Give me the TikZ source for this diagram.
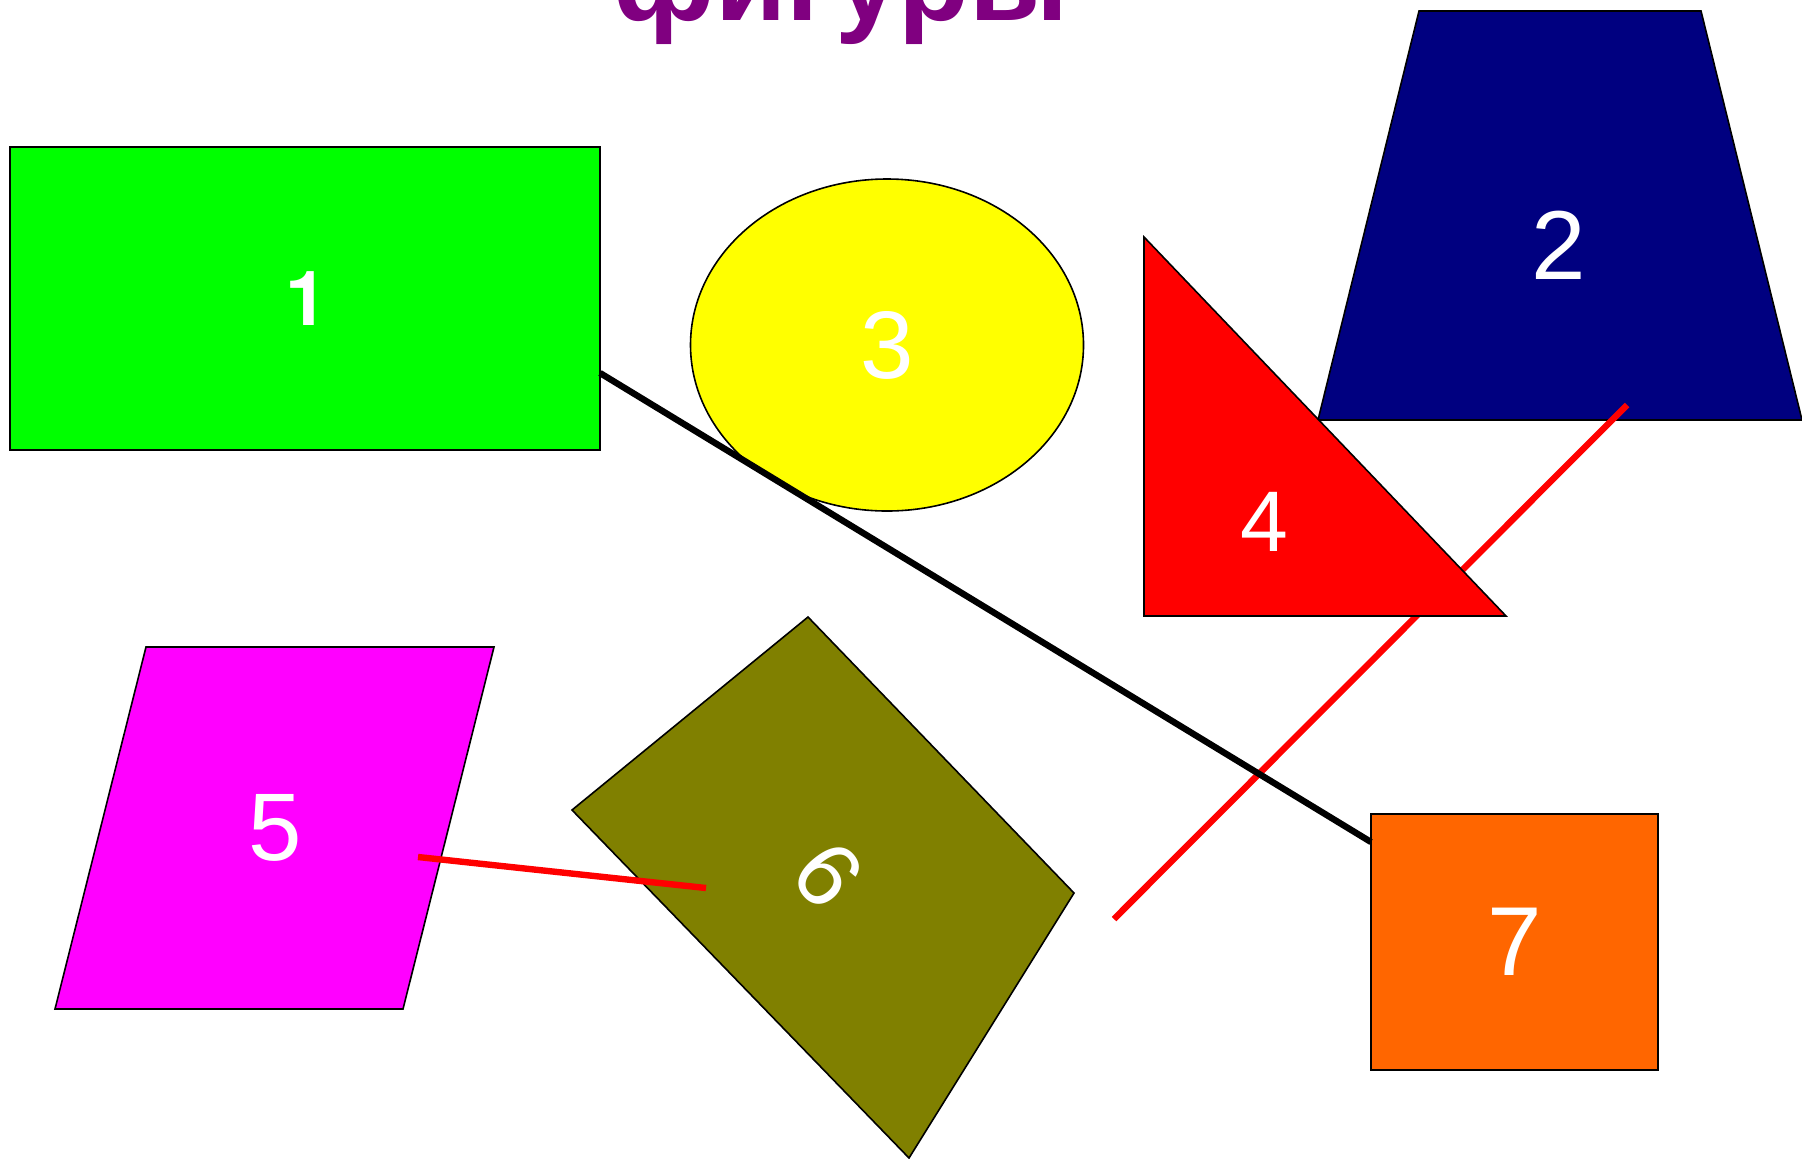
\documentclass[tikz,border=0pt]{standalone}
\usepackage{fontspec}
\setmainfont{Liberation Sans}
\newfontfamily\heros{TeX Gyre Heros}
\definecolor{figgreen}{HTML}{00FF00}
\definecolor{figyellow}{HTML}{FFFF00}
\definecolor{fignavy}{HTML}{000080}
\definecolor{figred}{HTML}{FF0000}
\definecolor{figmagenta}{HTML}{FF00FF}
\definecolor{figolive}{HTML}{808000}
\definecolor{figorange}{HTML}{FF6600}
\definecolor{figpurple}{HTML}{800080}

\begin{document}
\begin{tikzpicture}[x=0.5pt,y=-0.5pt]
  \tikzset{figure/.style={draw=black, line width=0.8pt}}
  \tikzset{num/.style={text=white, inner sep=0pt, font=\fontsize{48}{48}\selectfont}}
  \tikzset{pairline/.style={line width=3.2pt, figred}}
  \useasboundingbox (0,0) rectangle (1802,1158);
  \node[font=\bfseries\fontsize{58}{58}\selectfont, text=figpurple, anchor=base] (title) at (841,20) {фигуры};
  % figures
  \draw[figure, fill=figgreen] (10,147) rectangle (600,450);
  \node[num, font=\heros\fontsize{38}{38}\selectfont] (n1) at (307,299) {\textbf{1}};
  \draw[figure, fill=figyellow] (887,345) ellipse [x radius=196.5, y radius=166];
  \node[num] (n3) at (887,345) {3};
  \draw[figure, fill=fignavy] (1419,11) -- (1701,11) -- (1802,420) -- (1318,420) -- cycle;
  \node[num, font=\fontsize{49}{49}\selectfont] (n2) at (1559,245) {2};
  \coordinate (a2) at (1627,405);
  \coordinate (a6) at (1114,919);
  \draw[pairline] (a6) -- (a2);
  \draw[figure, fill=figred] (1144,237) -- (1506,616) -- (1144,616) -- cycle;
  \node[num, font=\fontsize{43}{43}\selectfont] (n4) at (1264,522) {4};
  \draw[figure, fill=figmagenta] (146,647) -- (494,647) -- (403,1009) -- (55,1009) -- cycle;
  \node[num] (n5) at (275,828) {5};
  \draw[figure, fill=figolive] (572,810) -- (808,617) -- (1074,893) -- (909,1158) -- cycle;
  \node[num, font=\fontsize{46}{46}\selectfont, rotate=-50] (n6) at (828,875) {6};
  \draw[figure, fill=figorange] (1371,814) rectangle (1658,1070);
  \node[num, font=\fontsize{49}{49}\selectfont] (n7) at (1515,942) {7};
  % connectors
  \coordinate (a5) at (418,857);
  \coordinate (b6) at (706,888);
  \draw[pairline] (a5) -- (b6);
  \coordinate (a1) at (600,373);
  \coordinate (a7) at (1371,842);
  \draw[line width=3.2pt] (a1) -- (a7);
\end{tikzpicture}
\end{document}
